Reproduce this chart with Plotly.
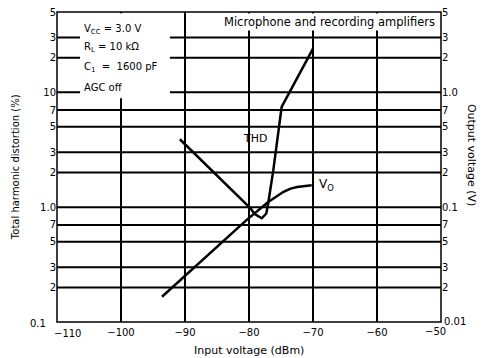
import plotly.graph_objects as go
import math

# ---- data ----
thd_x = [-90.8, -79.8, -79.1, -78.0, -77.3, -77.0, -76.2, -74.9, -70.0]
thd_y = [3.9, 0.98, 0.87, 0.80, 0.88, 1.08, 2.1, 7.45, 24.0]

vo_x = [-93.6, -80.4, -77.0, -75.7, -74.6, -73.5, -72.5, -70.2]
vo_y = [0.0166, 0.0771, 0.111, 0.125, 0.136, 0.145, 0.150, 0.155]

x_ticks = [-110, -100, -90, -80, -70, -60, -50]
x_ticktext = ["\u2212110", "\u2212100", "\u221290", "\u221280", "\u221270", "\u221260", "\u221250"]

left_ticks = [0.1, 0.2, 0.3, 0.5, 0.7, 1, 2, 3, 5, 7, 10, 20, 30, 50]
left_ticktext = ["0.1", "2", "3", "5", "7", "1.0", "2", "3", "5", "7", "10", "2", "3", "5"]

right_ticks = [0.01, 0.02, 0.03, 0.05, 0.07, 0.1, 0.2, 0.3, 0.5, 0.7, 1, 2, 3, 5]
right_ticktext = ["0.01", "2", "3", "5", "7", "0.1", "2", "3", "5", "7", "1.0", "2", "3", "5"]

grid_x = [-100, -90, -80, -70, -60]
grid_y = [0.2, 0.3, 0.5, 0.7, 1, 2, 3, 5, 7, 10, 20, 30]

conditions = ["V<sub>CC</sub> = 3.0 V", "R<sub>L</sub> = 10 k\u03a9",
              "C<sub>1</sub> \u00a0=\u00a0 1600 pF", "AGC off"]

FONT = "DejaVu Sans, Verdana, sans-serif"
BLACK = "black"

fig = go.Figure()

fig.add_trace(go.Scatter(x=thd_x, y=thd_y, mode="lines",
                         line=dict(color=BLACK, width=2.5),
                         yaxis="y", showlegend=False, hoverinfo="skip"))
fig.add_trace(go.Scatter(x=vo_x, y=vo_y, mode="lines",
                         line=dict(color=BLACK, width=2.5),
                         yaxis="y2", showlegend=False, hoverinfo="skip"))

shapes = []
for gx in grid_x:
    shapes.append(dict(type="line", xref="x", yref="paper", x0=gx, x1=gx, y0=0, y1=1,
                       line=dict(color=BLACK, width=2), layer="below"))
for gy in grid_y:
    shapes.append(dict(type="line", xref="paper", yref="y", x0=0, x1=1, y0=gy, y1=gy,
                       line=dict(color=BLACK, width=2), layer="below"))
# white box behind the condition text
shapes.append(dict(type="rect", xref="paper", yref="paper", x0=0.06, x1=0.294,
                   y0=0.722, y1=0.996, fillcolor="white", line=dict(width=0), layer="above"))
# frame
shapes.append(dict(type="rect", xref="paper", yref="paper", x0=0, x1=1, y0=0, y1=1,
                   line=dict(color=BLACK, width=1.5), layer="above"))

def txt(size):
    return dict(size=size, color=BLACK, family=FONT)

annotations = []
cond_y = [0.945, 0.885, 0.822, 0.755]
for t, yy in zip(conditions, cond_y):
    annotations.append(dict(xref="paper", yref="paper", x=0.066, y=yy, xanchor="left",
                            yanchor="middle", text=t, showarrow=False, font=txt(10)))

annotations += [
    dict(xref="paper", yref="paper", x=0.99, y=0.967, xanchor="right", yanchor="middle",
         text="Microphone and recording amplifiers", showarrow=False, bgcolor="white",
         font=txt(11.5)),
    dict(xref="x", yref="y", x=-79.1, y=math.log10(3.98), xanchor="center", yanchor="middle",
         text="THD", showarrow=False, font=txt(11)),
    dict(xref="x", yref="y2", x=-69.4, y=math.log10(0.155), xanchor="left", yanchor="middle",
         text="V<sub>O</sub>", showarrow=False, font=txt(12)),
    dict(xref="paper", yref="paper", x=-0.109, y=0.50, xanchor="center", yanchor="middle",
         text="Total harmonic distortion (%)", textangle=-90, showarrow=False, font=txt(10)),
    dict(xref="paper", yref="paper", x=1.08, y=0.54, xanchor="center", yanchor="middle",
         text="Output voltage (V)", textangle=90, showarrow=False, font=txt(11)),
    dict(xref="paper", yref="paper", x=0.5, y=-0.0935, xanchor="center", yanchor="middle",
         text="Input voltage (dBm)", showarrow=False, font=txt(11)),
    # corner tick labels (placed by hand to avoid collisions, as in the reference)
    dict(xref="paper", yref="paper", x=0, y=0, xanchor="right", yanchor="middle",
         xshift=-9, yshift=-1, text=left_ticktext[0], showarrow=False, font=txt(10)),
    dict(xref="paper", yref="paper", x=1, y=0, xanchor="left", yanchor="middle",
         xshift=1, yshift=1, text=right_ticktext[0], showarrow=False, font=txt(10)),
    dict(xref="paper", yref="paper", x=0, y=0, xanchor="center", yanchor="middle",
         xshift=10, yshift=-11, text=x_ticktext[0], showarrow=False, font=txt(10)),
    dict(xref="paper", yref="paper", x=1, y=0, xanchor="center", yanchor="middle",
         xshift=-6, yshift=-9, text=x_ticktext[-1], showarrow=False, font=txt(10)),
]

fig.update_layout(
    template="none",
    width=483, height=358,
    margin=dict(l=57, r=42, t=12, b=36, autoexpand=False),
    paper_bgcolor="white", plot_bgcolor="white",
    font=dict(family=FONT, size=10, color=BLACK),
    xaxis=dict(range=[-110, -50], tickvals=x_ticks[1:-1], ticktext=x_ticktext[1:-1],
               showgrid=False, zeroline=False, ticks="", showline=False,
               automargin=False, tickfont=txt(10), ticklabelstandoff=3),
    yaxis=dict(type="log", range=[-1, math.log10(50)], tickvals=left_ticks[1:],
               ticktext=left_ticktext[1:], showgrid=False, zeroline=False, ticks="",
               showline=False, automargin=False, tickfont=txt(10)),
    yaxis2=dict(type="log", range=[-2, math.log10(5)], tickvals=right_ticks[1:],
                ticktext=right_ticktext[1:], overlaying="y", side="right",
                showgrid=False, zeroline=False, ticks="", showline=False,
                automargin=False, tickfont=txt(10)),
    shapes=shapes,
    annotations=annotations,
)

fig.write_html("out.html", config={"displayModeBar": False},
               post_script="document.body.style.margin='0';document.body.style.overflow='hidden';")
